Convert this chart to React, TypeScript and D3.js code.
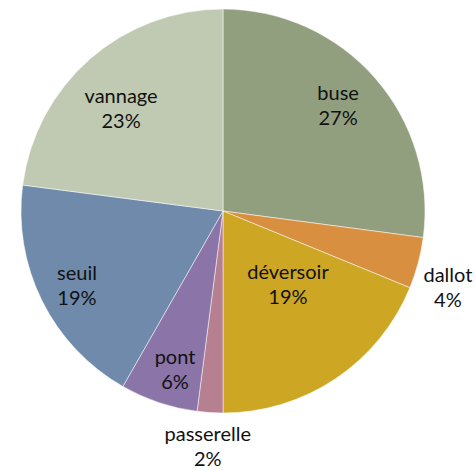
import React from "react";
import * as d3 from "d3";

// share of each structure type, clockwise from 12 o'clock
const categories = ["buse", "dallot", "déversoir", "passerelle", "pont", "seuil", "vannage"];
const values = [27.1, 4.1, 18.8, 2.05, 6.2, 18.8, 22.95];
const pctLabels = ["27%", "4%", "19%", "2%", "6%", "19%", "23%"];

const colors: Record<string, string> = {
  buse: "#929f7f",
  dallot: "#d89040",
  "déversoir": "#cda623",
  passerelle: "#b68090",
  pont: "#8a74a8",
  seuil: "#6f8aab",
  vannage: "#c0cab3",
};

// label placement: distance as a fraction of the radius, and a small turn (degrees) off the slice middle
const labelRadius: Record<string, number> = {
  buse: 0.768,
  dallot: 1.178,
  "déversoir": 0.491,
  passerelle: 1.173,
  pont: 0.825,
  seuil: 0.814,
  vannage: 0.712,
};
const labelTurn: Record<string, number> = {
  buse: -0.9,
  dallot: 4.1,
  "déversoir": -7.1,
  passerelle: 0,
  pont: -1.8,
  seuil: -0.9,
  vannage: -3.8,
};

export default function App() {
  const width = 476;
  const height = 470;
  const cx = 223;
  const cy = 211;
  const r = 202;

  const rows = categories.map((c, i) => ({ name: c, value: values[i], label: pctLabels[i] }));
  const pie = d3.pie<any>().value((d) => d.value).sort(null);
  const arcs = pie(rows);
  const arc = d3.arc<any>().innerRadius(0).outerRadius(r);

  return (
    <svg
      width={width}
      height={height}
      style={{ position: "absolute", left: 0, top: 0, background: "#fff" }}
      fontFamily="Lato, 'Open Sans', sans-serif"
    >
      <g transform={`translate(${cx},${cy})`}>
        {arcs.map((a) => (
          <path key={a.data.name} d={arc(a) as string} fill={colors[a.data.name]} stroke="#ffffff" strokeWidth={0.5} />
        ))}
        {arcs.map((a) => {
          const mid = (a.startAngle + a.endAngle) / 2 + (labelTurn[a.data.name] * Math.PI) / 180;
          const lr = r * labelRadius[a.data.name];
          const x = Math.sin(mid) * lr;
          const y = -Math.cos(mid) * lr;
          return (
            <text key={a.data.name} x={x} y={y} textAnchor="middle" fontSize={20} fill="#111">
              <tspan x={x} dy="-0.33em">{a.data.name}</tspan>
              <tspan x={x} dy="1.25em">{a.data.label}</tspan>
            </text>
          );
        })}
      </g>
    </svg>
  );
}
